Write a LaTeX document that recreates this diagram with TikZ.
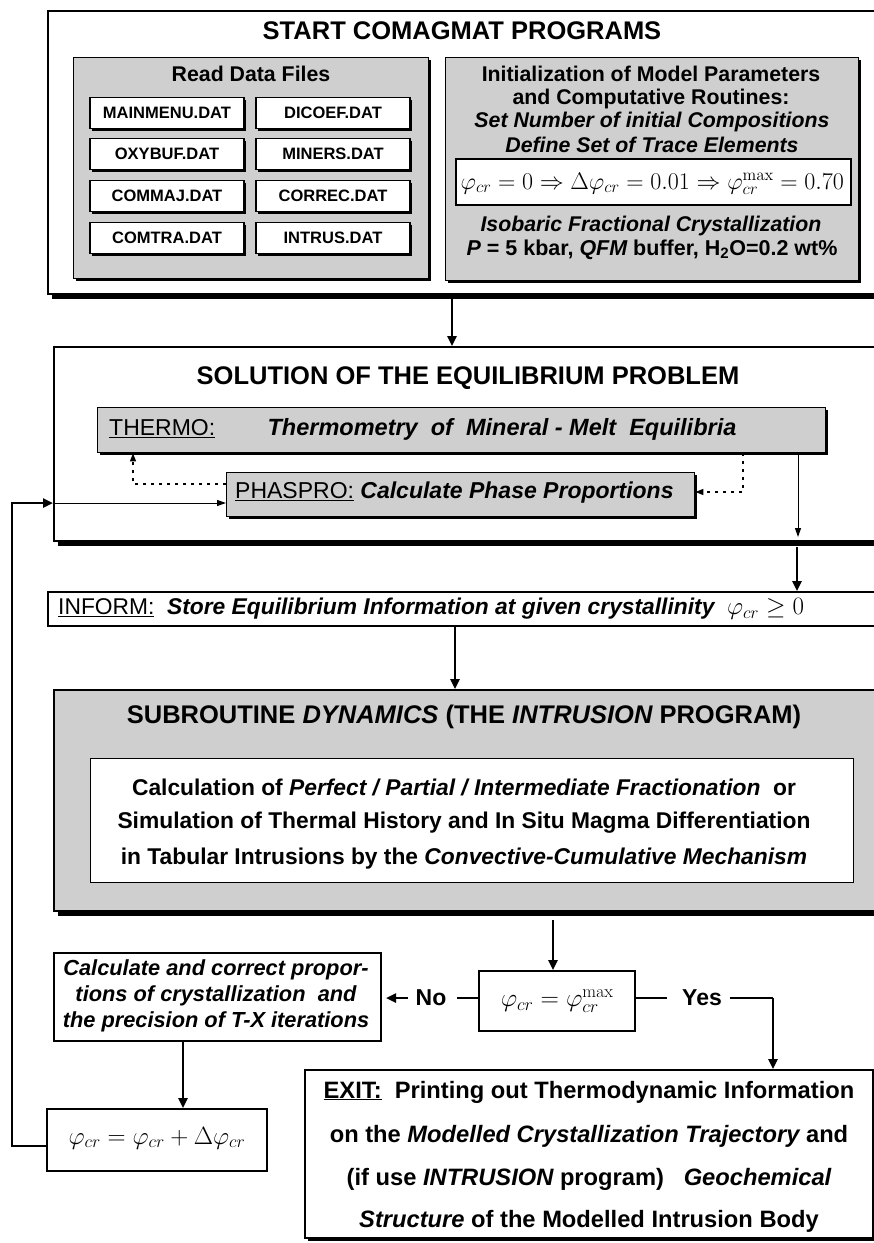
\RequirePackage{fix-cm}
\documentclass[tikz,border=0pt]{standalone}
\usepackage[no-math]{fontspec}
\setmainfont{Liberation Sans}
\usetikzlibrary{shadows,arrows.meta}
\newcommand\fs[1]{\fontsize{#1}{#1}\selectfont}
\tikzset{
  bigbox/.style={draw, line width=2.2pt, fill=white, anchor=north west, inner sep=0pt,
     drop shadow={shadow xshift=4pt, shadow yshift=-5pt, fill=black, opacity=1}},
  graybox/.style={draw, line width=1.4pt, fill=black!19, anchor=north west, inner sep=0pt,
     drop shadow={shadow xshift=2pt, shadow yshift=-2pt, fill=black, opacity=1}},
  filebox/.style={draw, line width=1.4pt, fill=white, minimum width=154pt, minimum height=31pt, inner sep=0pt,
     drop shadow={shadow xshift=2pt, shadow yshift=-2pt, fill=black, opacity=1},
     font=\bfseries\fs{16.5}},
  plainbox/.style={draw, line width=2.4pt, fill=white, anchor=north west, inner sep=0pt},
  txt/.style={inner sep=0pt, anchor=center},
  thick arrow/.style={line width=2.4pt, -{Triangle[length=10pt,width=9pt]}},
  thin arrow/.style={line width=1pt, -{Triangle[length=9pt,width=6pt]}},
  dot arrow/.style={line width=1.3pt, dash pattern=on 3pt off 5pt, -{Triangle[length=8pt,width=6pt]}},
  plain line/.style={line width=2.4pt}
}
\begin{document}
\begin{tikzpicture}[x=1pt,y=-1pt]
\clip (0,0) rectangle (874,1243);
\fill[white] (0,0) rectangle (874,1243);

% ---------- top box ----------
\node[bigbox, minimum width=850pt, minimum height=283pt] (top) at (47,10) {};
\node[txt, font=\bfseries\fs{25.5}] (toptitle) at (462,31) {START COMAGMAT PROGRAMS};

\node[graybox, minimum width=355pt, minimum height=221pt] (read) at (73,57) {};
\node[txt, font=\bfseries\fs{21.3}] (readtitle) at (251,74) {Read Data Files};
\node[filebox] (f1) at (167,113) {MAINMENU.DAT};
\node[filebox] (f2) at (333,113) {DICOEF.DAT};
\node[filebox] (f3) at (167,154) {OXYBUF.DAT};
\node[filebox] (f4) at (333,154) {MINERS.DAT};
\node[filebox] (f5) at (167,196) {COMMAJ.DAT};
\node[filebox] (f6) at (333,196) {CORREC.DAT};
\node[filebox] (f7) at (167,238) {COMTRA.DAT};
\node[filebox] (f8) at (333,238) {INTRUS.DAT};

\node[graybox, minimum width=413pt, minimum height=223pt] (init) at (445,57) {};
\node[txt, font=\bfseries\fs{21.3}] (i1) at (651,74) {Initialization of Model Parameters};
\node[txt, font=\bfseries\fs{21.3}] (i2) at (651,99) {and Computative Routines:};
\node[txt, font=\bfseries\itshape\fs{21.3}] (i3) at (652,122) {Set Number of initial Compositions};
\node[txt, font=\bfseries\itshape\fs{21.3}] (i4) at (652,145) {Define Set of Trace Elements};
\node[draw, line width=1.6pt, fill=white, anchor=north west, minimum width=395pt, minimum height=46pt, inner sep=0pt] (formbox) at (455,158) {};
\node[txt, font=\fs{24}] (form) at ([yshift=-2pt,xshift=-1pt]formbox.center)
  {$\varphi_{cr}=0\Rightarrow\Delta\varphi_{cr}=0.01\Rightarrow\varphi_{cr}^{\max}=0.70$};
\node[txt, font=\bfseries\itshape\fs{21.3}] (i5) at (651,226) {Isobaric Fractional Crystallization};
\node[txt, font=\bfseries\fs{21.5}] (i6) at (652,250) {\itshape P\upshape{} = 5 kbar, \itshape QFM\upshape{} buffer, H\textsubscript{2}O=0.2 wt\%};

% ---------- solution box ----------
\node[bigbox, minimum width=850pt, minimum height=194pt] (sol) at (53,346) {};
\node[txt, font=\bfseries\fs{25.5}] (soltitle) at (468,378) {SOLUTION OF THE EQUILIBRIUM PROBLEM};
\node[graybox, minimum width=728pt, minimum height=45pt] (thermo) at (97,407) {};
\node[txt, anchor=west, font=\fs{23}] (thermolab) at (109,429) {\underline{THERMO:}};
\node[txt, font=\bfseries\itshape\fs{23.5}] (thermotxt) at (502,429) {Thermometry\ \ of\ \ Mineral - Melt\ \ Equilibria};
\node[graybox, minimum width=468pt, minimum height=44pt] (phas) at (226,472) {};
\node[txt, anchor=west, font=\fs{23}] (phastxt) at (235,493) {\underline{PHASPRO:} \bfseries\itshape Calculate Phase Proportions};

\coordinate (dl) at (133,484);
\coordinate (dr) at (743,492);
\draw[dot arrow] (phas.west |- dl) -- (dl) -- (dl |- thermo.south);
\draw[dot arrow] (dr |- thermo.south) -- (dr) -- (phas.east |- dr);
\coordinate (t1) at (798,452);
\coordinate (t2) at (798,537);
\draw[thin arrow] (t1) -- (t2);
\coordinate (ph) at (53,503);
\draw[thin arrow] (ph) -- (phas.west |- ph);

\draw[thick arrow] (452,296) coordinate (a1) -- (a1 |- sol.north);

% ---------- inform box ----------
\node[plainbox, line width=2.2pt, minimum width=850pt, minimum height=34pt] (inform) at (47,591) {};
\node[txt, anchor=west, font=\fs{22.8}] (informtxt) at (58,609)
  {\underline{INFORM:}\ \ \bfseries\itshape Store Equilibrium Information at given crystallinity\ \ \normalfont\fs{25}$\varphi_{cr}\geq0$};
\draw[thick arrow] (797,547) coordinate (a2) -- (a2 |- inform.north);

% ---------- subroutine box ----------
\node[bigbox, fill=black!19, minimum width=850pt, minimum height=221pt] (sub) at (53,689) {};
\draw[thick arrow] (455,626) coordinate (a3) -- (a3 |- sub.north);
\node[txt, font=\bfseries\fs{25.5}] (subtitle) at (464,717) {SUBROUTINE \itshape DYNAMICS\upshape{} (THE \itshape INTRUSION\upshape{} PROGRAM)};
\node[draw, line width=1.4pt, fill=white, anchor=north west, minimum width=763pt, minimum height=124pt, inner sep=0pt] (inner) at (90,758) {};
\node[txt, font=\bfseries\fs{22.8}] (s1) at (464,787) {Calculation of \itshape Perfect / Partial / Intermediate Fractionation\upshape\ \ or};
\node[txt, font=\bfseries\fs{22.8}] (s2) at (464,823) {Simulation of Thermal History and In Situ Magma Differentiation};
\node[txt, font=\bfseries\fs{22.8}] (s3) at (464,859) {in Tabular Intrusions by the \itshape Convective-Cumulative Mechanism};

% ---------- decision ----------
\node[plainbox, minimum width=156pt, minimum height=60pt] (dec) at (478,970) {};
\node[txt, font=\fs{25.5}] (dectxt) at (dec.center) {$\varphi_{cr}=\varphi_{cr}^{\max}$};
\draw[thick arrow] (553,920) coordinate (a4) -- (a4 |- dec.north);

\node[plainbox, minimum width=327pt, minimum height=88pt] (calc) at (53,952) {};
\node[txt, font=\bfseries\itshape\fs{21.8}, align=center] (calctxt) at (216,996)
  {Calculate and correct propor-\\[4.5pt]tions of crystallization\ \ and\\[4.5pt]the precision of \textit{T-X} iterations};

\node[txt, font=\bfseries\fs{23}] (no) at (431,998) {No};
\draw[plain line] (dec.west |- no) -- (457,998);
\draw[thick arrow] (408,998) -- (386,998) coordinate (noend);

\node[txt, font=\bfseries\fs{23}] (yes) at (702,998) {Yes};
\coordinate (yc) at (773,998);
\draw[plain line] (dec.east |- yes) -- (667,998);
\draw[plain line] (730,998) -- (yc);

\node[plainbox, minimum width=568pt, minimum height=168pt,
   drop shadow={shadow xshift=3pt, shadow yshift=-3pt, fill=black, opacity=1}] (exit) at (304,1069) {};
\draw[thick arrow] (yc) -- (yc |- exit.north);
\node[txt, font=\bfseries\fs{23.7}] (e1) at (589,1092) {\underline{EXIT:}\ \ Printing out Thermodynamic Information};
\node[txt, font=\bfseries\fs{23.7}] (e2) at (589,1136) {on the \itshape Modelled Crystallization Trajectory\upshape{} and};
\node[txt, font=\bfseries\fs{23.7}] (e3) at (589,1179) {(if use \itshape INTRUSION\upshape{} program)\ \ \ \itshape Geochemical};
\node[txt, font=\bfseries\fs{23.7}] (e4) at (589,1221) {\itshape Structure\upshape{} of the Modelled Intrusion Body};

\node[plainbox, minimum width=220pt, minimum height=62pt] (upd) at (46,1108) {};
\node[txt, font=\fs{25}] (updtxt) at (157,1138) {$\varphi_{cr}=\varphi_{cr}+\Delta\varphi_{cr}$};
\draw[thick arrow] (calc.south -| 183,0) -- (upd.north -| 183,0);

\coordinate (fb1) at (12,1146);
\coordinate (fb2) at (12,503);
\draw[line width=2.4pt, -{Triangle[length=10pt,width=9pt]}] (upd.west |- fb1) -- (fb1) -- (fb2) -- (sol.west |- fb2);
\end{tikzpicture}
\end{document}
